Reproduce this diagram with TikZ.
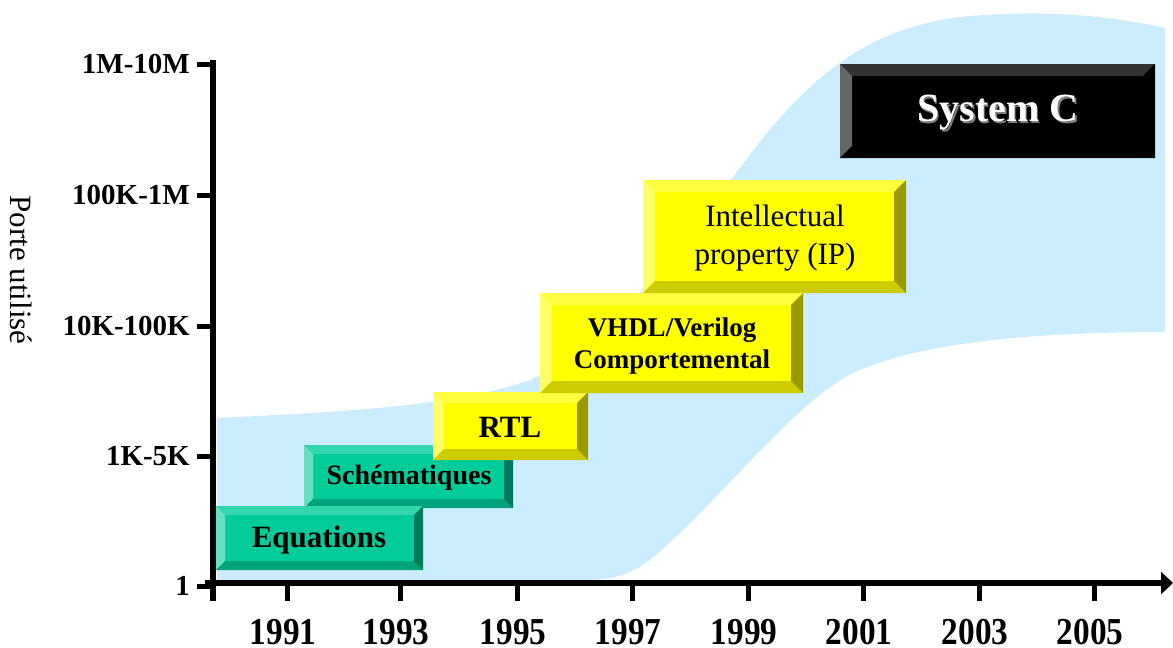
\documentclass[tikz,border=0pt]{standalone}
\usepackage{graphicx}
\usepackage{fontspec}
\setmainfont{Liberation Serif}
\usetikzlibrary{arrows.meta}
\definecolor{skyb}{RGB}{204,236,255}
\definecolor{tealF}{RGB}{0,204,153}
\definecolor{tealT}{RGB}{51,214,173}
\definecolor{tealL}{RGB}{102,224,194}
\definecolor{tealB}{RGB}{0,163,122}
\definecolor{tealR}{RGB}{0,122,92}
\definecolor{yelF}{RGB}{255,255,0}
\definecolor{yelT}{RGB}{255,255,64}
\definecolor{yelL}{RGB}{255,255,102}
\definecolor{yelB}{RGB}{204,204,0}
\definecolor{yelR}{RGB}{153,153,0}
\definecolor{blkF}{RGB}{0,0,0}
\definecolor{blkT}{RGB}{51,51,51}
\definecolor{blkL}{RGB}{102,102,102}
\definecolor{blkB}{RGB}{0,0,0}
\definecolor{blkR}{RGB}{0,0,0}
\newcommand{\bevelbox}[6]{%
 \fill[#6F] (#1,#2) rectangle (#3,#4);
 \fill[#6T] (#1,#2) -- (#3,#2) -- ({#3-#5},{#2+#5}) -- ({#1+#5},{#2+#5}) -- cycle;
 \fill[#6L] (#1,#2) -- ({#1+#5},{#2+#5}) -- ({#1+#5},{#4-#5}) -- (#1,#4) -- cycle;
 \fill[#6B] (#1,#4) -- ({#1+#5},{#4-#5}) -- ({#3-#5},{#4-#5}) -- (#3,#4) -- cycle;
 \fill[#6R] (#3,#2) -- (#3,#4) -- ({#3-#5},{#4-#5}) -- ({#3-#5},{#2+#5}) -- cycle;
}
\tikzset{
 axisline/.style={line width=6pt},
 tickline/.style={line width=5pt},
 ylab/.style={anchor=east, font=\fontsize{29}{30}\selectfont\bfseries, inner sep=0pt},
 yearlab/.style={font=\fontsize{34}{36}\selectfont\bfseries, inner sep=0pt},
 boxtext/.style={font=\fontsize{28}{32}\selectfont\bfseries, align=center, inner sep=0pt},
}
\begin{document}
\begin{tikzpicture}[x=1pt,y=-1pt]
\useasboundingbox (0,0) rectangle (1173,648);
% blue band
\fill[skyb] (217,580) -- (217,418) .. controls (330,412) and (450,408) .. (530,380)
  .. controls (590,352) and (650,290) .. (737,172)
  .. controls (790,100) and (850,30) .. (960,17)
  .. controls (1050,8) and (1120,18) .. (1165,28)
  -- (1165,332) .. controls (1050,332) and (930,340) .. (860,370)
  .. controls (800,395) and (730,490) .. (656,555)
  .. controls (630,577) and (610,580) .. (580,580) -- cycle;
% boxes
\bevelbox{304}{445}{513}{508}{9}{teal}
\bevelbox{216}{506}{423}{570}{9}{teal}
\bevelbox{433}{392}{588}{460}{11}{yel}
\bevelbox{540}{293}{803}{393}{12}{yel}
\bevelbox{643}{180}{906}{293}{12}{yel}
\bevelbox{840}{64}{1155}{158}{12}{blk}
\node[boxtext] (equ) at (319,540) {\fontsize{31}{34}\selectfont Equations};
\node[boxtext] (sch) at (409,478) {Schématiques};
\node[boxtext] (rtl) at (510,427) {\fontsize{31}{34}\selectfont RTL};
\node[boxtext, font=\fontsize{27}{32}\selectfont\bfseries] (vhdl) at (672,346) {VHDL/Verilog\\Comportemental};
\node[boxtext, font=\fontsize{31}{38}\selectfont] (ip) at (775,238) {Intellectual\\property (IP)};
\node[boxtext, font=\fontsize{40}{44}\selectfont\bfseries, text=gray] (sysCs) at (999.5,114.5) {System C};
\node[boxtext, font=\fontsize{40}{44}\selectfont\bfseries, text=white] (sysC) at (998,113) {System C};
% axes
\coordinate (yTop) at (213,60);
\coordinate (yBot) at (213,601);
\coordinate (xL) at (205,583);
\coordinate (xR) at (1173,583);
\draw[axisline] (yTop) -- (yBot);
\draw[axisline, -{Triangle[length=12pt,width=22pt]}] (xL) -- (xR);
\foreach \yy/\lab in {64/1M-10M,195/100K-1M,326/10K-100K,456/1K-5K,586/1}{
  \coordinate (yt\yy) at (197,\yy);
  \coordinate (ye\yy) at (213,\yy);
  \draw[tickline] (yt\yy) -- (ye\yy);
  \node[ylab] (yl\yy) at (190,\yy) {\lab};
}
\foreach \xx/\yr in {287/1991,400/1993,517/1995,632/1997,748/1999,863/2001,979/2003,1094/2005}{
  \coordinate (xa\xx) at (\xx,583);
  \coordinate (xb\xx) at (\xx,601);
  \draw[tickline] (xa\xx) -- (xb\xx);
  \node[yearlab] (yr\yr) at ({\xx-4},632) {\scalebox{0.98}[1.12]{\yr}};
}
\node[rotate=-90, font=\fontsize{31}{34}\selectfont, inner sep=0pt] (ylabel) at (21,270) {Porte utilisé};
\end{tikzpicture}
\end{document}
